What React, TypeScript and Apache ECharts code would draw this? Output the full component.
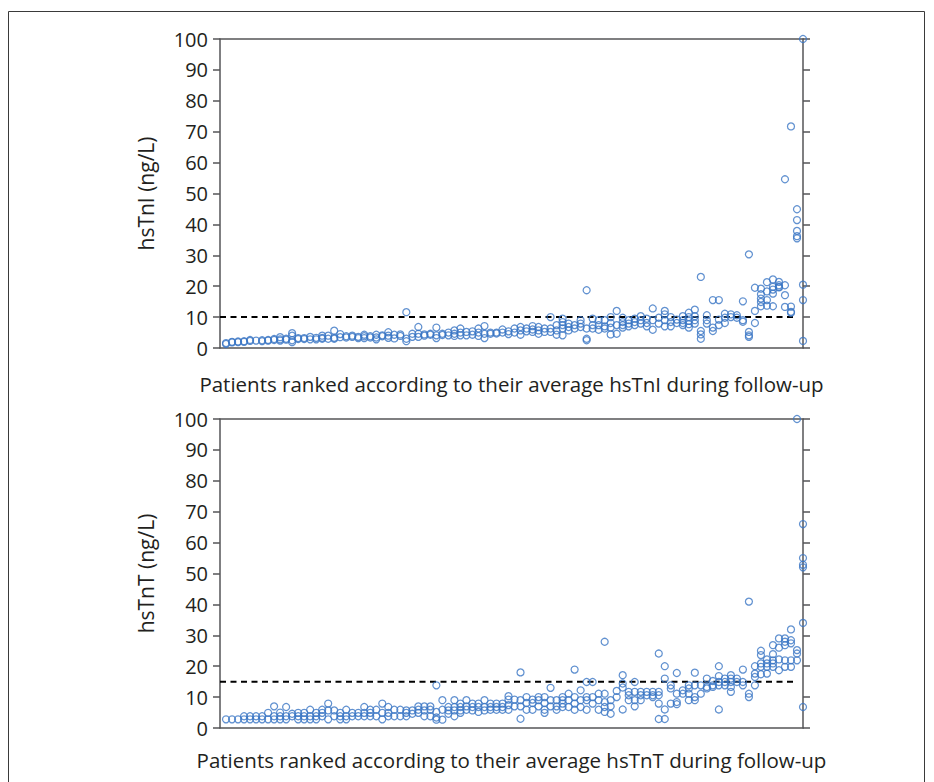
import React, { useEffect, useRef } from "react";
import * as echarts from "echarts";

// Patients ranked 1..97; each inner list = measurements during follow-up
const patientCount = 97;

const hsTnI: number[][] = [
  [1.6, 1.3], [2.0, 1.8], [2.1, 1.9], [2.2, 2.0], [2.6, 2.3], [2.4], [2.5, 2.2], [2.6, 2.4],
  [2.9, 2.6], [3.5, 2.8, 2.4], [3.0, 2.7], [4.8, 4.0, 2.5, 1.9], [3.2, 2.9], [3.2, 2.9],
  [3.6, 2.8], [3.3, 2.8], [4.0, 3.3, 3.0], [4.0, 3.0], [5.6, 3.3, 3.0], [4.5, 3.5],
  [3.8, 3.4], [4.0, 3.6], [3.6, 3.2], [4.3, 3.8, 3.2], [3.8, 3.4], [4.3, 3.4, 2.8],
  [4.1, 3.8], [5.1, 4.0, 3.3], [4.3, 3.1], [4.4, 3.9], [11.6, 3.0, 2.2], [4.6, 3.6],
  [6.8, 4.6, 3.6], [4.4, 4.0], [4.6, 4.3], [6.6, 4.1, 3.2], [4.6, 4.2], [5.0, 4.1],
  [5.7, 4.6, 3.9], [6.3, 5.0, 4.1], [5.2, 4.1], [5.4, 4.3], [6.3, 5.0, 3.9], [7.1, 4.6, 3.2],
  [5.0, 4.6], [5.0, 4.7], [6.0, 5.0], [5.4, 4.5], [6.3, 5.0], [6.8, 5.7, 4.3], [6.3, 5.4],
  [7.1, 6.0, 5.2], [6.8, 5.7, 4.6], [6.3, 5.2], [10.0, 6.3, 5.2], [7.4, 5.7, 4.3],
  [9.5, 8.4, 7.4, 6.3, 4.1], [7.9, 6.8, 5.7], [7.4, 6.3], [9.0, 7.9, 6.8],
  [18.7, 6.3, 3.0, 2.5], [9.5, 7.4, 6.3], [9.0, 7.4, 5.9], [9.0, 7.0, 6.3],
  [10.0, 8.1, 6.6, 4.4], [12.0, 7.4, 4.6], [9.8, 8.4, 7.4, 6.6], [9.0, 7.9, 7.0],
  [9.5, 8.4, 7.4], [10.3, 9.0, 7.9], [9.5, 8.1, 7.0], [12.8, 9.0, 5.9], [9.8, 7.9],
  [12.0, 10.9, 9.0, 7.0], [10.0, 8.4, 7.0], [9.2, 8.1], [10.3, 9.0, 8.1, 7.4],
  [11.4, 10.0, 8.8, 7.7, 6.6], [12.4, 10.3, 9.0, 7.9], [23.0, 5.5, 4.4, 3.0],
  [10.6, 9.0, 7.9], [15.5, 6.6, 5.5], [15.5, 9.2, 7.4], [11.1, 9.8, 8.1], [10.9, 10.0],
  [10.6, 9.8], [15.1, 9.0, 8.5], [30.3, 5.2, 4.1, 3.6], [19.5, 12.0, 8.1],
  [19.2, 17.4, 16.0, 14.9, 13.5], [21.3, 18.3, 15.5, 13.7], [22.2, 19.8, 18.9, 17.6, 13.5],
  [21.4, 20.3, 19.8, 19.6], [54.6, 20.3, 17.1, 13.3], [71.7, 13.4, 11.7, 11.4],
  [44.9, 41.4, 37.9, 36.2, 35.5], [100, 20.5, 15.5, 2.3],
];

const hsTnT: number[][] = [
  [2.8], [2.8], [2.8], [2.8, 3.8], [2.8, 3.8], [2.8, 3.8], [2.8, 3.8], [2.8, 4.9],
  [2.8, 7.0, 3.8], [2.8, 3.8, 5.0], [2.8, 3.8, 6.8], [3.8, 4.6], [2.8, 3.8, 4.9],
  [2.8, 3.8, 4.9], [2.8, 3.8, 5.9], [2.8, 3.8, 4.9], [3.8, 4.9, 5.9], [2.8, 7.9, 5.7],
  [3.8, 5.7], [2.8, 3.8, 4.9], [2.8, 3.8, 5.9], [3.8, 4.9], [3.8, 4.9], [3.8, 4.9, 6.8],
  [3.8, 4.9, 5.9], [3.8, 5.9], [2.8, 4.9, 7.9], [3.8, 4.9, 6.8], [3.8, 5.9], [3.8, 5.9],
  [5.7, 3.8, 4.9], [5.7, 4.6], [7.0, 5.9, 4.9], [7.0, 5.7, 3.8], [7.0, 5.9, 3.8],
  [13.8, 5.2, 3.4, 2.7], [9.0, 5.9, 2.7], [6.8, 5.7, 4.6], [9.0, 6.8, 5.7, 3.8],
  [7.9, 6.8, 5.7, 4.9], [9.0, 7.0, 5.9], [7.9, 6.8, 5.7], [7.9, 6.8, 5.2], [9.0, 6.8, 5.7],
  [7.9, 6.8, 5.9], [7.9, 6.8, 5.9], [7.9, 6.8, 5.9], [10.3, 9.2, 7.4, 5.9], [9.2, 7.0],
  [18.0, 9.0, 7.0, 3.0], [10.0, 8.1, 5.9], [9.2, 8.1, 5.9], [10.0, 9.0, 7.0],
  [10.0, 8.1, 5.9, 4.9], [13.0, 9.0, 7.0], [9.0, 7.0, 5.9], [10.0, 9.0, 7.9, 6.8],
  [11.1, 9.0, 6.8], [18.9, 10.0, 7.9, 5.9], [12.2, 9.0, 6.8], [14.9, 10.0, 9.0, 5.9],
  [14.9, 10.0, 7.9], [11.1, 9.0, 5.9], [27.9, 11.1, 8.4, 6.8, 5.2], [9.0, 7.0, 4.6],
  [12.0, 10.0], [17.1, 14.4, 13.1, 6.0], [11.7, 10.6, 9.0], [14.9, 11.7, 9.0, 7.0],
  [11.7, 10.6, 9.0], [11.7, 10.6], [11.7, 10.6, 10.0], [24.1, 11.7, 10.6, 7.9, 2.9],
  [20.0, 16.0, 6.0, 2.9], [13.8, 12.8, 7.9], [17.8, 11.1, 8.4, 7.7], [12.2, 11.1],
  [13.8, 12.8, 11.1, 9.0], [17.9, 13.8, 10.0, 9.0], [13.8, 11.1], [16.0, 13.3, 12.8],
  [15.2, 13.8, 13.3], [20.0, 16.8, 14.9, 13.8, 6.0], [16.0, 14.9, 13.8],
  [17.1, 16.0, 14.9, 13.3, 11.7], [16.0, 14.9], [18.9, 14.9, 13.8], [40.9, 11.1, 10.0],
  [20.0, 17.6, 16.5, 13.8], [25.0, 23.6, 20.9, 19.8, 17.4], [22.2, 20.9, 19.8, 17.6],
  [26.8, 23.9, 21.9, 20.9, 19.8], [29.0, 26.0, 22.2, 18.7], [29.0, 27.9, 26.8, 21.9, 19.8],
  [31.9, 28.4, 27.4, 21.9, 19.8], [100, 25.2, 24.1, 21.9], [66, 55, 52.8, 52, 34, 6.8],
];

const yMin = 0;
const yMax = 100;
const yInterval = 10;
const cutoffI = 10;
const cutoffT = 15;
const cutoffEndPatient = 96;

const xTitleI = "Patients ranked according to their average hsTnI during follow-up";
const xTitleT = "Patients ranked according to their average hsTnT during follow-up";
const yTitleI = "hsTnI (ng/L)";
const yTitleT = "hsTnT (ng/L)";

const FONT = "Open Sans";
const TEXT = "#231f20";
const AXIS = "#555557";
const BLUE = "#3a76c4";

const toPoints = (rows: number[][]) =>
  rows.flatMap((vals, i) => vals.map((v) => [i + 1, v]));

export default function App() {
  const ref = useRef<HTMLDivElement>(null);

  useEffect(() => {
    if (!ref.current) return;
    const chart = echarts.init(ref.current, undefined, { renderer: "svg" });

    const grids = [
      { left: 220, top: 39, width: 583, height: 309 },
      { left: 220, top: 419, width: 583, height: 309 },
    ];
    const xNameGaps = [25, 21];

    const lineStyle = { color: AXIS, width: 1.5 };
    const xAxes: any[] = [];
    const yAxes: any[] = [];
    const titlesX = [xTitleI, xTitleT];
    const titlesY = [yTitleI, yTitleT];
    grids.forEach((_, g) => {
      xAxes.push({
        type: "value",
        gridIndex: g,
        min: 0,
        max: patientCount,
        position: "bottom",
        axisLine: { show: true, onZero: false, lineStyle },
        axisTick: { show: false },
        axisLabel: { show: false },
        splitLine: { show: false },
        name: titlesX[g],
        nameLocation: "middle",
        nameGap: xNameGaps[g],
        nameTextStyle: { fontFamily: FONT, fontSize: 20.5, color: TEXT },
      });
      xAxes.push({
        type: "value",
        gridIndex: g,
        min: 0,
        max: patientCount,
        position: "top",
        axisLine: { show: true, onZero: false, lineStyle },
        axisTick: { show: false },
        axisLabel: { show: false },
        splitLine: { show: false },
      });
      yAxes.push({
        type: "value",
        gridIndex: g,
        min: yMin,
        max: yMax,
        interval: yInterval,
        position: "left",
        axisLine: { show: true, onZero: false, lineStyle },
        axisTick: { show: true, length: 7, lineStyle },
        axisLabel: { margin: 12, fontFamily: FONT, fontSize: 20, color: TEXT },
        splitLine: { show: false },
        name: titlesY[g],
        nameLocation: "middle",
        nameGap: 64,
        nameRotate: 90,
        nameTextStyle: { fontFamily: FONT, fontSize: 21, color: TEXT },
      });
      yAxes.push({
        type: "value",
        gridIndex: g,
        min: yMin,
        max: yMax,
        interval: yInterval,
        position: "right",
        axisLine: { show: true, onZero: false, lineStyle },
        axisTick: { show: true, length: 7, lineStyle },
        axisLabel: { show: false },
        splitLine: { show: false },
      });
    });

    const cutoffs = [cutoffI, cutoffT];
    const datasets = [hsTnI, hsTnT];
    const series: any[] = [];
    grids.forEach((_, g) => {
      series.push({
        type: "line",
        xAxisIndex: g * 2,
        yAxisIndex: g * 2,
        data: [
          [0, cutoffs[g]],
          [cutoffEndPatient, cutoffs[g]],
        ],
        symbol: "none",
        silent: true,
        lineStyle: { color: "#000", width: 2, type: [6, 4.5] },
        z: 2,
      });
      series.push({
        type: "scatter",
        xAxisIndex: g * 2,
        yAxisIndex: g * 2,
        data: toPoints(datasets[g]),
        symbol: "circle",
        symbolSize: 7,
        itemStyle: { color: "rgba(0,0,0,0)", borderColor: BLUE, borderWidth: 1.25 },
        z: 3,
      });
    });

    chart.setOption({
      animation: false,
      backgroundColor: "#fff",
      grid: grids,
      xAxis: xAxes,
      yAxis: yAxes,
      series,
      graphic: [
        {
          type: "rect",
          shape: { x: 8.5, y: 11.5, width: 916, height: 800 },
          style: { fill: "none", stroke: "#3a3a3a", lineWidth: 1 },
          silent: true,
        },
      ],
    });

    return () => chart.dispose();
  }, []);

  return (
    <div
      ref={ref}
      style={{ position: "absolute", left: 0, top: 0, width: 934, height: 782 }}
    />
  );
}
